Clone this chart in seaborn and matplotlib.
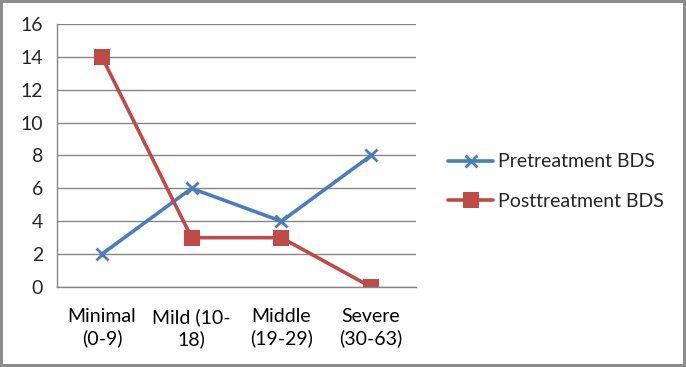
import pandas as pd
import seaborn as sns
import matplotlib.pyplot as plt
from matplotlib.lines import Line2D

categories = ["Minimal\n(0-9)", "Mild (10-\n18)", "Middle\n(19-29)", "Severe\n(30-63)"]
pretreatment = [2, 6, 4, 8]
posttreatment = [14, 3, 3, 0]
series_names = ["Pretreatment BDS", "Posttreatment BDS"]
colors = {"Pretreatment BDS": "#4A7EBB", "Posttreatment BDS": "#BE4B48"}

rows = []
for i, cat in enumerate(categories):
    rows.append({"pos": i, "value": pretreatment[i], "series": series_names[0]})
    rows.append({"pos": i, "value": posttreatment[i], "series": series_names[1]})
df = pd.DataFrame(rows)

sns.set_style("white")
plt.rcParams["font.family"] = ["Lato", "DejaVu Sans"]

fig = plt.figure(figsize=(6.86, 3.67), dpi=100, linewidth=3, edgecolor="#8c8c8c")
ax = fig.add_axes([0.0831, 0.218, 0.5233, 0.7166])

pre_style = dict(lw=2.6, marker="x", markersize=9, markeredgewidth=2)
post_style = dict(lw=2.6, marker="s", markersize=12, markeredgewidth=0)

c0, c1 = colors[series_names[0]], colors[series_names[1]]
sns.lineplot(data=df[df.series == series_names[0]], x="pos", y="value",
             color=c0, markeredgecolor=c0, ax=ax, legend=False, **pre_style)
sns.lineplot(data=df[df.series == series_names[1]], x="pos", y="value",
             color=c1, markeredgecolor=c1, ax=ax, legend=False, **post_style)

ax.set_xlim(-0.5, len(categories) - 0.5)
ax.set_ylim(0, 16)
ax.set_yticks(range(0, 17, 2))
ax.set_xticks([i - 0.5 for i in range(len(categories) + 1)])
ax.set_xticklabels([])
ax.set_xticks(range(len(categories)), minor=True)
ax.set_xticklabels(categories, minor=True, linespacing=1.3)
ax.tick_params(axis="x", which="minor", length=0, labelsize=14, pad=15, colors="#000000")
ax.tick_params(axis="x", which="major", length=5, direction="out", color="#868686")
ax.tick_params(axis="y", length=5, direction="out", color="#868686", labelsize=14, pad=5)
ax.yaxis.grid(True, color="#868686", lw=1)
ax.set_axisbelow(True)
for s in ["top", "right"]:
    ax.spines[s].set_visible(False)
for s in ["left", "bottom"]:
    ax.spines[s].set_color("#868686")
    ax.spines[s].set_linewidth(1)
ax.set_xlabel("")
ax.set_ylabel("")

handles = [
    Line2D([], [], color=c0, markeredgecolor=c0, **pre_style),
    Line2D([], [], color=c1, markeredgecolor=c1, **post_style),
]
fig.legend(handles, series_names, loc="center left", bbox_to_anchor=(0.628, 0.505),
           frameon=False, fontsize=14, handlelength=2.3, handletextpad=0.25, labelspacing=1.15)

fig.savefig("out.png", dpi=100)
